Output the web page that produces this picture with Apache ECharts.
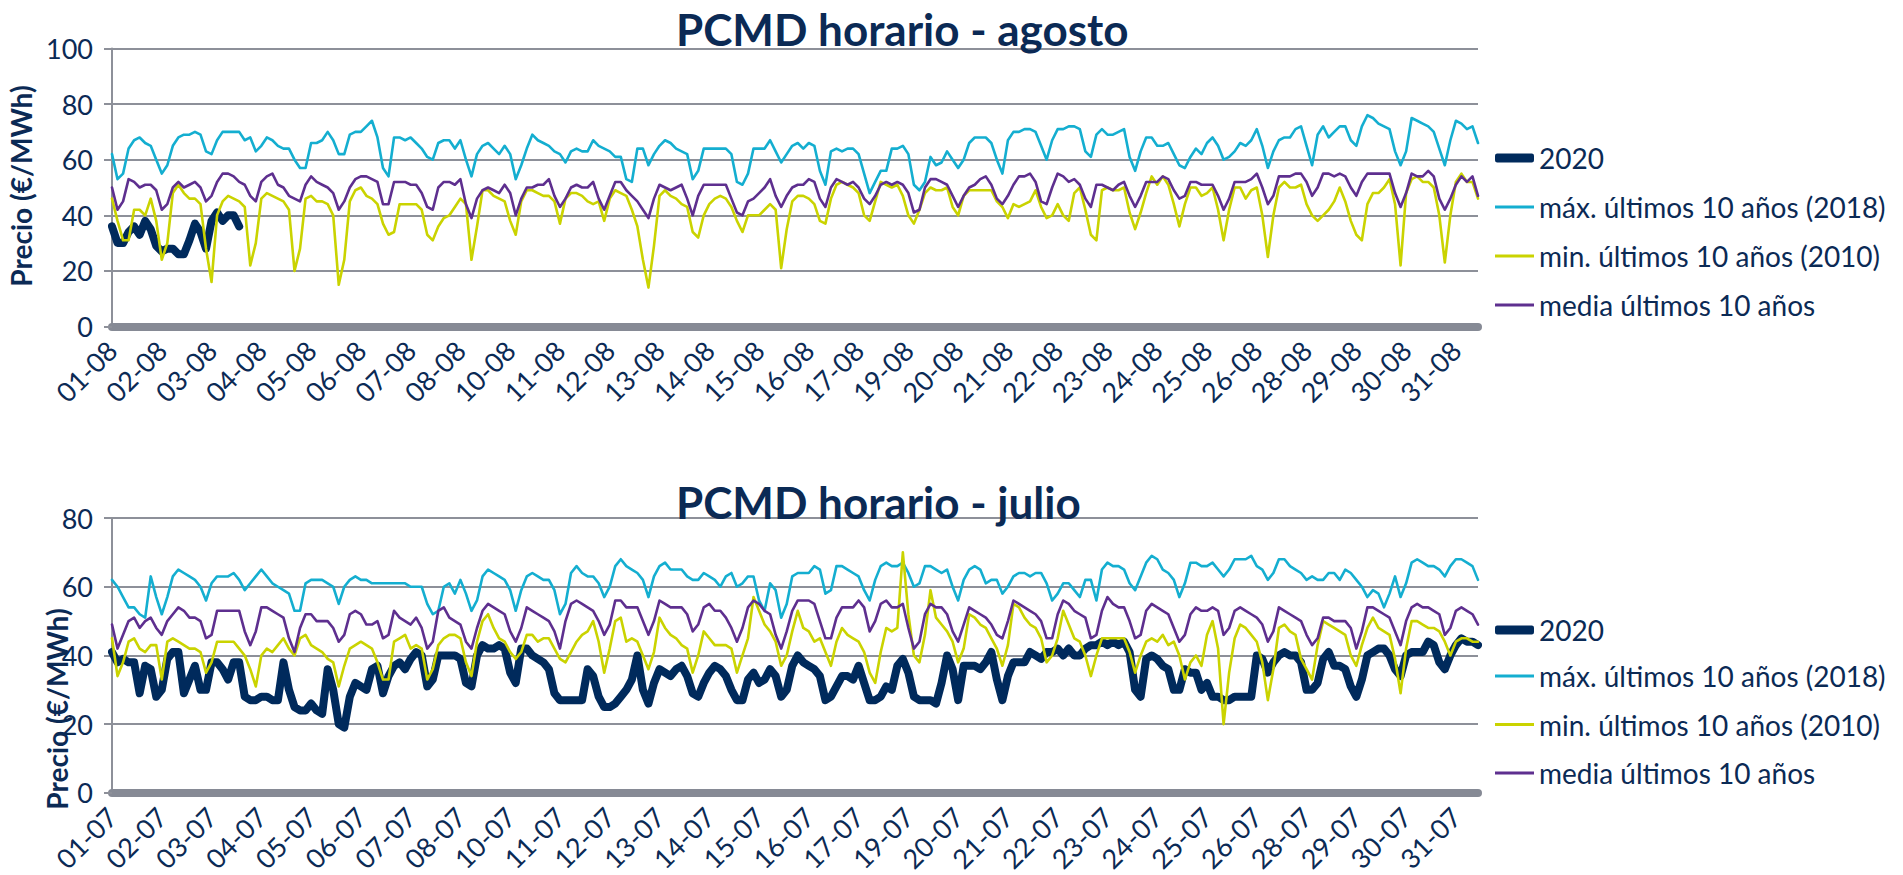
<!DOCTYPE html>
<html>
<head>
<meta charset="utf-8">
<script src="https://cdn.jsdelivr.net/npm/echarts@6/dist/echarts.min.js"></script>
<style>html,body{margin:0;padding:0;background:#fff;}#c{width:1903px;height:875px;}</style>
</head>
<body>
<div id="c"></div>
<script>
// ---- tick labels / categories (3-hour points, 8 per day, 31 days) ----
const DAYS = 31;
const PTS_PER_DAY = 8;
const yTicksAgo = [0, 20, 40, 60, 80, 100];
const yTicksJul = [0, 20, 40, 60, 80];
function pad(n){ return (n < 10 ? '0' : '') + n; }
const catsAgo = [], catsJul = [];
for (let d = 1; d <= DAYS; d++) {
  for (let k = 0; k < PTS_PER_DAY; k++) { catsAgo.push(pad(d) + '-08'); catsJul.push(pad(d) + '-07'); }
}
const seriesNames = ['2020', 'máx. últimos 10 años (2018)', 'min. últimos 10 años (2010)', 'media últimos 10 años'];

// ---- AGOSTO ----
const ago2020 = [
36,30,30,34,36,33,38,35,
29,27,28,28,26,26,31,37,
34,28,38,41,38,40,40,36];
const agoMax = [
62,53,55,64,67,68,66,65,
60,55,58,65,68,69,69,70,
69,63,62,67,70,70,70,70,
67,68,63,65,68,67,65,64,
64,60,57,57,66,66,67,70,
67,62,62,69,70,70,72,74,
68,57,54,68,68,67,68,66,
64,61,60,66,67,67,64,67,
60,54,62,65,66,64,62,65,
62,53,58,64,69,67,66,65,
63,62,59,63,64,63,63,67,
65,64,63,61,61,53,52,64,
64,58,62,65,67,66,64,63,
62,53,56,64,64,64,64,64,
62,52,51,55,64,64,64,67,
63,59,62,65,66,64,66,65,
56,51,63,64,63,64,64,62,
55,48,52,56,56,64,64,65,
62,51,49,52,61,58,59,63,
60,57,60,66,68,68,68,66,
60,55,67,70,70,71,71,70,
65,60,67,71,71,72,72,71,
63,61,69,71,69,69,70,71,
61,56,63,68,68,65,65,66,
62,58,57,61,64,62,66,68,
65,60,61,63,66,65,67,71,
65,57,63,67,68,68,71,72,
65,58,69,72,68,70,72,72,
67,65,72,76,75,73,72,71,
63,58,63,75,74,73,72,70,
64,58,67,74,73,71,72,66];
const agoMin = [
46,38,31,31,42,42,40,46,
38,24,30,48,51,48,46,46,
44,28,16,40,45,47,46,45,
43,22,30,46,48,47,46,45,
42,20,28,46,47,45,45,44,
40,15,24,45,49,50,47,46,
44,37,33,34,44,44,44,44,
42,33,31,36,39,40,43,46,
44,24,36,49,49,47,46,45,
38,33,45,49,49,48,47,47,
45,37,46,48,48,47,45,44,
45,38,46,49,48,47,42,36,
24,14,29,47,49,47,46,44,
43,34,32,40,44,46,47,46,
43,38,34,40,40,40,42,44,
42,21,35,45,47,47,46,44,
38,37,46,51,52,51,50,48,
40,38,45,52,51,50,51,47,
40,37,42,48,50,49,49,50,
43,40,47,49,49,49,49,49,
45,43,39,44,43,44,45,49,
43,39,40,44,40,38,48,50,
42,33,31,49,50,49,49,50,
41,35,41,48,54,51,54,51,
44,36,44,50,50,47,48,50,
42,31,42,50,50,46,49,50,
40,25,40,50,52,50,50,51,
44,40,38,40,42,45,50,45,
38,33,31,44,48,48,50,53,
44,22,48,53,54,52,52,50,
40,23,40,52,55,52,52,46];
const agoMedia = [
50,42,45,53,52,50,51,51,
49,42,44,50,52,50,51,52,
50,45,47,52,55,55,54,52,
51,47,45,52,54,55,51,50,
47,46,45,51,54,52,51,50,
48,42,45,50,53,54,54,53,
52,44,44,52,52,52,51,51,
48,43,42,50,52,52,51,53,
44,39,46,49,50,49,48,51,
48,40,46,50,50,51,51,53,
47,43,46,50,51,50,50,52,
46,42,47,52,52,49,47,45,
42,39,46,51,50,49,50,51,
46,40,47,51,51,51,51,51,
46,41,40,45,46,48,50,53,
47,43,47,50,51,51,53,52,
46,43,50,53,52,51,52,50,
46,44,47,51,52,51,52,51,
48,41,42,50,53,53,52,51,
47,43,47,50,51,53,54,51,
46,44,47,51,54,54,55,52,
45,44,50,55,54,52,53,51,
46,43,51,51,50,49,51,52,
47,43,47,52,52,52,54,53,
49,46,47,52,52,51,51,51,
47,42,46,52,52,52,53,55,
50,44,47,54,54,54,55,55,
52,47,50,55,55,54,55,54,
50,47,52,55,55,55,55,55,
48,43,48,55,54,54,56,54,
46,42,46,51,54,52,54,47];

// ---- JULIO ----
const jul2020 = [
41,38,39,38,38,29,37,36,
28,30,39,41,41,29,33,37,
30,30,38,38,36,33,38,38,
28,27,27,28,28,27,27,38,
30,25,24,24,26,24,23,36,
30,20,19,28,32,31,30,36,
37,29,34,37,38,36,39,41,
40,31,33,40,40,40,40,39,
32,31,40,43,42,42,43,42,
35,32,42,42,40,39,38,36,
29,27,27,27,27,27,36,34,
28,25,25,26,28,30,33,40,
30,26,32,36,35,34,36,37,
34,29,28,32,35,37,36,34,
30,27,27,33,35,32,33,36,
34,28,30,37,40,38,37,36,
34,27,28,31,34,34,33,37,
32,27,27,28,31,30,37,39,
35,28,27,27,27,26,32,40,
36,27,37,37,37,36,38,41,
33,27,34,38,38,38,41,40,
39,41,41,42,40,42,40,40,
42,43,43,44,43,44,43,44,
41,30,28,39,40,39,37,36,
30,30,36,35,35,30,32,28,
28,27,27,28,28,28,28,40,
39,35,38,40,41,40,40,38,
30,30,32,39,41,37,37,36,
31,28,33,40,41,42,42,40,
36,34,40,41,41,41,44,43,
38,36,40,43,45,44,44,43];
const julMax = [
62,60,57,54,54,52,51,63,
57,52,57,63,65,64,63,62,
60,56,61,63,63,63,64,62,
59,61,63,65,63,61,60,59,
58,53,53,61,62,62,62,61,
60,55,60,62,63,62,62,61,
61,61,61,61,61,61,60,60,
60,55,52,53,60,61,58,62,
58,53,56,63,65,64,63,62,
59,53,59,63,64,63,62,62,
59,52,55,64,66,64,63,63,
61,57,60,66,68,66,65,64,
62,57,63,66,67,65,65,65,
63,62,62,64,63,62,60,63,
64,60,61,63,63,56,53,61,
59,51,55,63,64,64,64,66,
65,58,59,66,66,65,64,63,
59,56,62,66,67,66,66,67,
64,60,61,66,66,65,64,65,
60,56,62,65,66,65,61,62,
62,58,60,63,64,64,63,64,
64,61,56,58,61,61,59,57,
62,62,56,65,67,66,66,65,
61,59,63,67,69,68,65,64,
62,57,61,67,67,66,66,67,
65,63,65,68,68,68,69,66,
65,62,64,68,68,66,65,64,
62,63,62,62,64,64,62,65,
64,62,60,57,59,58,54,58,
63,57,61,67,68,67,66,66,
65,63,66,68,68,67,66,62];
const julMin = [
45,34,38,44,45,42,41,43,
43,33,44,45,44,43,42,42,
41,35,38,44,44,44,44,42,
40,36,31,40,42,41,43,45,
42,40,45,46,43,42,41,39,
38,31,37,42,43,44,43,42,
38,33,33,44,45,46,42,43,
42,33,36,43,45,46,46,45,
38,34,44,50,52,48,45,44,
41,39,41,46,46,44,45,45,
42,39,38,41,44,46,47,50,
44,35,42,50,51,44,45,44,
40,36,41,51,48,46,45,43,
42,35,40,47,45,43,43,43,
42,35,40,45,57,53,49,47,
44,37,40,47,53,48,47,44,
45,41,37,44,48,46,45,44,
41,35,32,41,48,47,48,70,
52,40,38,46,59,51,49,47,
44,38,42,52,51,49,48,45,
42,37,43,55,54,51,49,48,
45,38,40,45,53,49,45,44,
40,34,40,45,45,45,45,45,
41,35,40,44,45,44,46,43,
44,40,33,38,40,37,46,50,
42,20,35,45,49,48,46,44,
38,27,36,48,49,47,46,39,
36,33,43,50,49,48,47,46,
40,37,43,48,51,48,47,46,
39,29,42,50,50,49,48,48,
47,44,40,44,45,45,44,44];
const julMedia = [
49,42,46,50,51,48,50,51,
48,46,50,52,54,53,51,51,
50,45,46,53,53,53,53,53,
47,43,47,54,54,53,52,51,
45,41,48,52,52,50,50,50,
48,44,46,52,53,52,49,49,
50,45,46,53,51,50,49,51,
48,42,44,53,54,51,50,49,
44,42,48,53,55,54,53,52,
47,44,48,54,53,52,51,50,
47,42,50,55,56,55,54,53,
50,46,49,56,56,54,54,54,
50,46,50,56,55,54,54,54,
52,47,49,54,55,53,53,51,
48,44,48,54,56,55,53,52,
46,42,47,53,56,56,56,55,
50,45,45,51,54,54,54,56,
54,47,50,55,56,54,54,55,
48,42,44,52,55,54,54,52,
47,44,49,54,53,52,51,49,
46,45,50,56,55,54,53,52,
50,45,45,52,56,55,53,52,
51,45,46,53,57,55,54,54,
50,45,46,53,55,54,53,52,
48,44,46,52,54,53,53,54,
53,46,48,53,54,53,52,51,
49,44,47,54,53,52,51,50,
46,43,45,51,51,50,50,50,
48,42,47,54,54,53,52,51,
47,43,50,54,55,54,54,53,
52,46,48,53,54,53,52,49];

// ---- styling ----
const TXT = '#0b2a55';
const FONT = 'Lato, "Open Sans", "Liberation Sans", sans-serif';
const GRIDC = '#8d9099';
const COLORS = ['#002a5c', '#14aed0', '#cad300', '#5e2f8f'];
const WIDTHS = [8, 2.6, 2.6, 2.6];
const TICK_FS = 27;
const LEG_FS = 28;

function xAxis(gi, cats){
  return {
    type: 'category', gridIndex: gi, data: cats, boundaryGap: false, offset: 3,
    axisLine: { show: true, lineStyle: { color: '#868a95', width: 8 } },
    axisTick: { show: false },
    splitLine: { show: false },
    axisLabel: { interval: 8, rotate: 45, margin: 16, color: TXT, fontSize: TICK_FS, fontFamily: FONT }
  };
}
function yAxis(gi, ticks){
  return {
    type: 'value', gridIndex: gi, min: ticks[0], max: ticks[ticks.length-1], interval: ticks[1]-ticks[0],
    axisLine: { show: true, lineStyle: { color: GRIDC, width: 2 } },
    axisTick: { show: true, length: 8, lineStyle: { color: GRIDC, width: 2 } },
    splitLine: { show: true, lineStyle: { color: GRIDC, width: 2 } },
    axisLabel: { margin: 19, color: TXT, fontSize: TICK_FS, fontFamily: FONT }
  };
}
function mk(name, idx, gi, data){
  return {
    name: name, type: 'line', xAxisIndex: gi, yAxisIndex: gi, data: data,
    symbol: 'none', showSymbol: false, animation: false, z: 2 + idx,
    lineStyle: { color: COLORS[idx], width: WIDTHS[idx], cap: 'round', join: 'round' },
    itemStyle: { color: COLORS[idx] }
  };
}
function legend(names, top, gap, icon, h){
  return {
    orient: 'vertical', left: 1490, top: top, itemGap: gap, itemWidth: 39, itemHeight: h,
    icon: icon, data: names, selectedMode: false,
    textStyle: { color: TXT, fontSize: LEG_FS, fontFamily: FONT, lineHeight: 30 }
  };
}

const chart = echarts.init(document.getElementById('c'), null, { renderer: 'svg' });
chart.setOption({
  animation: false,
  backgroundColor: '#ffffff',
  title: [
    { text: 'PCMD horario - agosto', left: 671, top: 2, textStyle: { color: TXT, fontSize: 44, fontWeight: 'bold', fontFamily: FONT } },
    { text: 'PCMD horario - julio', left: 671, top: 475, textStyle: { color: TXT, fontSize: 44, fontWeight: 'bold', fontFamily: FONT } }
  ],
  legend: [
    legend([seriesNames[0]], 138, 19, 'roundRect', 9),
    legend(seriesNames.slice(1), 187, 19, 'rect', 3),
    legend([seriesNames[0]], 610, 18, 'roundRect', 9),
    legend(seriesNames.slice(1), 656, 18.5, 'rect', 3)
  ],
  grid: [
    { left: 112, width: 1366, top: 48.5, height: 278 },
    { left: 112, width: 1366, top: 518, height: 278 }
  ],
  xAxis: [ xAxis(0, catsAgo), xAxis(1, catsJul) ],
  yAxis: [ yAxis(0, yTicksAgo), yAxis(1, yTicksJul) ],
  graphic: [
    { type: 'text', x: 21, y: 186, rotation: Math.PI/2, style: { text: 'Precio (€/MWh)', fill: TXT, fontSize: 28, fontWeight: 'bold', fontFamily: FONT, align: 'center', verticalAlign: 'middle' } },
    { type: 'text', x: 57, y: 709, rotation: Math.PI/2, style: { text: 'Precio (€/MWh)', fill: TXT, fontSize: 28, fontWeight: 'bold', fontFamily: FONT, align: 'center', verticalAlign: 'middle' } }
  ],
  series: [
    mk(seriesNames[0], 0, 0, ago2020),
    mk(seriesNames[1], 1, 0, agoMax),
    mk(seriesNames[2], 2, 0, agoMin),
    mk(seriesNames[3], 3, 0, agoMedia),
    mk(seriesNames[0], 0, 1, jul2020),
    mk(seriesNames[1], 1, 1, julMax),
    mk(seriesNames[2], 2, 1, julMin),
    mk(seriesNames[3], 3, 1, julMedia)
  ]
});
</script>
</body>
</html>
